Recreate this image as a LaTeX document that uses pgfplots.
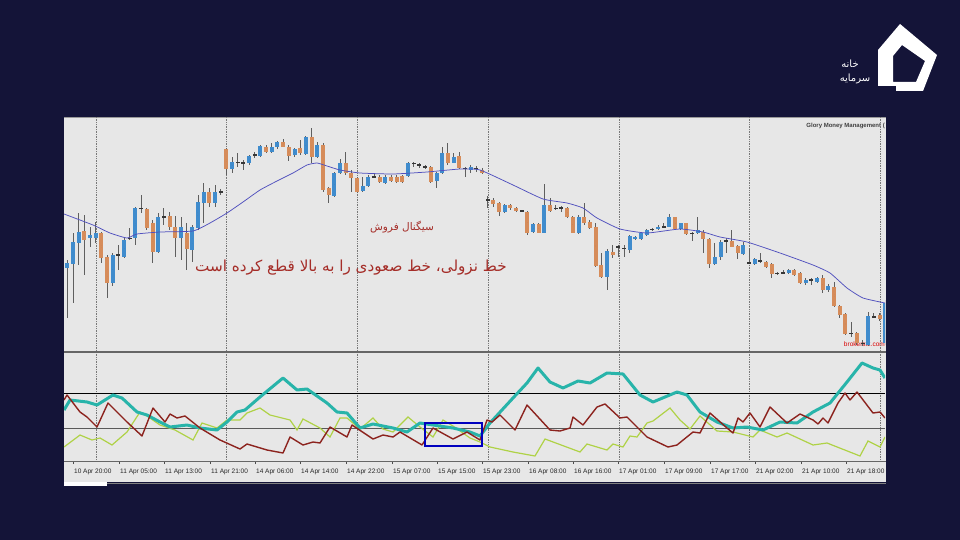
\documentclass[border=0pt]{standalone}
\usepackage{pgfplots}
\pgfplotsset{compat=1.18}
\usepackage{pgfplotstable}
\usepackage{fontspec}
\setmainfont{Liberation Sans}
\newfontfamily\arabicfont[Script=Arabic]{DejaVu Sans}
\TeXXeTstate=1
\definecolor{navy}{RGB}{20,20,56}
\definecolor{chartbg}{RGB}{231,231,231}
\definecolor{upc}{RGB}{64,140,205}
\definecolor{dnc}{RGB}{214,140,90}
\definecolor{wickc}{RGB}{95,95,95}
\definecolor{dojic}{RGB}{55,55,55}
\definecolor{mac}{RGB}{80,80,190}
\definecolor{tealc}{RGB}{40,180,170}
\definecolor{redc}{RGB}{140,35,30}
\definecolor{ygc}{RGB}{175,210,70}
\definecolor{txtred}{RGB}{165,45,40}
\definecolor{sepc}{RGB}{120,120,120}

\pgfplotstableread{
i top bot hi lo t
0 262.7 268.3 260 318.3 1
1 241.7 264 233.3 302.7 1
2 231.7 243.3 213.3 265 1
3 231 240 215 275 -1
4 235 238.3 226.7 246.7 1
5 232.7 238.3 221.7 243.3 1
6 233.3 258.3 231.7 263.3 -1
7 256.7 282.7 255 298.3 -1
8 255 283.3 253 286 1
9 255 255 245 270 0
10 240 256.7 238.3 258.3 1
11 238.3 238.3 228.3 240 0
12 208.3 238.3 206.7 245 1
13 208.3 208.3 195 213.3 0
14 209.3 228.3 208.3 230 -1
15 223.3 251.7 220 263.3 -1
16 216.7 251.7 213.3 253.3 1
17 216.7 216.7 208.3 225 0
18 216 226.7 211.7 230 -1
19 226.7 238.3 216 256.7 -1
20 226.7 238.3 216.7 260 1
21 232.7 249.3 223.3 270 -1
22 226.7 250 225 261.7 1
23 201.7 228.3 195 230 1
24 191.7 203.3 183.3 223.3 1
25 191.7 203.3 188.3 206.7 -1
26 191.7 203.3 185 206.7 1
27 191.7 191.7 189.3 195 0
28 149.3 169.3 148.3 175 -1
29 161.7 169.3 156.7 173.3 1
30 162.3 162.3 153.3 166.7 0
31 162.7 162.7 160 170 0
32 156 163.3 155 165 1
33 155 155 151.7 158.3 0
34 146 156 145 156.7 1
35 147.3 151.7 145 152.7 -1
36 146.7 151.7 143.3 153.3 1
37 141.7 147.3 140.7 149.3 1
38 141.7 146.7 139.3 147.3 -1
39 146.7 156 145 160.7 -1
40 149.3 155 148.3 156.7 1
41 148.3 153.3 140 155 -1
42 137.3 154 136 155 1
43 137.3 156.7 128.3 163.3 -1
44 145 156.7 141.7 158.3 1
45 145 190 143.3 191.7 -1
46 188.3 195 186.7 203.3 -1
47 173.3 196 171.7 197.3 1
48 162.7 173.3 159.3 174 1
49 162.7 172.7 151.7 175 -1
50 173.3 178.3 170 191.7 -1
51 178.3 191.7 176.7 192.7 -1
52 186 191 176.7 191.7 1
53 177.3 186 175 186.7 1
54 176.7 176.7 172.7 178.3 0
55 176.7 181.7 175 183.3 -1
56 177.3 183.3 175 184 1
57 176.7 180.7 175 182 -1
58 176.7 181.7 175 183 -1
59 176 181.7 174.5 183 -1
60 163.3 176 161.7 176.7 1
61 163.3 163.3 161.7 166.7 0
62 165 165 163.3 168.3 0
63 166.7 166.7 165 169.3 0
64 166.7 181.7 166 183.3 -1
65 173.3 180.7 171.7 188.3 1
66 153.3 173.3 146.7 174 1
67 153.3 163.3 143.3 165 -1
68 156.7 162.7 152.7 163.3 1
69 156 168.3 151.7 169.3 -1
70 168.3 168.3 166.7 176.7 0
71 167.3 170 165 173.3 1
72 168.3 168.3 166 171.7 0
73 170 173.3 168.3 174 -1
74 200 200 196 208.3 0
75 200 204 198.3 206.7 -1
76 203.3 211.7 201.7 216 -1
77 205 211.7 204 212.7 1
78 205 208.3 204 210 -1
79 207.7 210.7 206.7 211.7 -1
80 210.7 210.7 210 212 0
81 211.7 232.7 210.7 235 -1
82 224.3 231.7 223.3 232.7 1
83 224 232.7 223.3 233.3 -1
84 205 232.7 184 233.3 1
85 205 210.7 198.3 211.7 -1
86 208.3 208.3 205 210 0
87 207.7 207.7 206 211.7 0
88 208.3 216.7 206.7 218.3 -1
89 216.7 232.7 216 233.3 -1
90 216.7 232.7 215 234 1
91 216.7 223.3 202.7 225 -1
92 221.7 228.3 220 229.3 -1
93 226.7 266 223.3 266.7 -1
94 265 277.3 253.3 278.3 -1
95 250.7 277.3 249.3 290 1
96 251.7 255 245 258.3 -1
97 246.7 246.7 245 256.7 0
98 248.3 248.3 245 256.7 0
99 236 250 235 252.7 1
100 236.7 238.3 236 240 1
101 233.3 239.3 231.7 240 1
102 230 235 229.3 236 1
103 229.3 229.3 228.3 230.7 0
104 226.7 229.3 225 230 1
105 226.7 226.7 223.3 228.3 0
106 217.3 226.7 214 227.3 1
107 217.3 229.3 216.7 230 -1
108 223.3 228.7 222.7 230 1
109 223.3 234 222.7 235 -1
110 233.3 233.3 231.7 240.7 0
111 230 232.7 216.7 234 1
112 231.7 239.3 230 253.3 -1
113 239.3 264 238.3 268.3 -1
114 256.7 264 243.3 265 1
115 241.7 256.7 240 260 1
116 240.7 240.7 238.3 253.3 0
117 241 246.7 230 247.3 -1
118 246 253.3 245 259.3 -1
119 245 254 241.7 255 1
120 262.7 262.7 248.3 264 0
121 259.3 264 258.3 265 1
122 260.7 260.7 252.7 262.7 0
123 261.7 266.7 260.7 268.3 -1
124 264 274 262.7 278.3 -1
125 273.3 273.3 272 274.7 0
126 272.7 272.7 270 274 0
127 270 273.3 269.3 274 1
128 270 275 269.3 276 -1
129 272.7 283.3 271.7 284 -1
130 280 283.3 278.3 285 1
131 280 280 278.3 285 0
132 278.3 281.7 276.7 283.3 1
133 278.3 290 275 293.3 -1
134 286 290 284 291.7 1
135 287.3 306 281.7 307.3 -1
136 306 315 305 318.3 -1
137 314 334 312.7 335 -1
138 333.3 333.3 321.7 336.7 0
139 333.3 343.3 331.7 345 -1
140 343.3 343.3 340 346 0
141 316 345 311.7 346 1
142 316.7 316.7 313.3 318.3 0
143 315 319.3 313.3 320.7 -1
144 303 343 300 345 1
}\candles

\pgfplotsset{
  nomark/.style={only marks, mark=*, mark size=0pt, mark options={draw=none, fill=none}, forget plot},
  candlebody/.style 2 args={nomark,
    restrict expr to domain={\thisrow{t}}{#1},
    error bars/.cd, y dir=both, y explicit, error mark=none,
    error bar style={line width=4pt, color=#2, line cap=butt}},
}

\begin{document}
\begin{tikzpicture}
\begin{scope}[x=1pt,y=-1pt]
  \fill[navy] (0,0) rectangle (960,540);
  % screenshot frame
  \fill[chartbg] (64,117) rectangle (886,482);
  \draw[gray!80, line width=0.6pt] (64,117.3) -- (886,117.3);
  \fill[white] (64,482) rectangle (107,486);
  \draw[gray, line width=0.8pt] (107,483) -- (886,483);
  % watermark-like labels
  \node[anchor=east, inner sep=0, text=black!75, font=\fontsize{6}{7}\selectfont\bfseries] at (885,126) {Glory Money Management (};
  \node[anchor=east, inner sep=0, text=red!85!black, font=\fontsize{6.5}{7}\selectfont] at (885,344) {brokersfx.com};
\end{scope}

% ---------- upper panel: candles + moving average
\begin{axis}[at={(64pt,-117pt)}, anchor=north west, scale only axis,
  width=821pt, height=234pt, xmin=64, xmax=885, ymin=117, ymax=351,
  y dir=reverse, hide axis, clip=true]
  \pgfplotsinvokeforeach{96.7,226.7,357.7,488,619,749,880.5}{
    \addplot[sepc, densely dotted, line width=0.7pt, forget plot] coordinates {(#1,117) (#1,351)};
  }
  % wicks
  \addplot[nomark,
    error bars/.cd, y dir=both, y explicit, error mark=none,
    error bar style={line width=0.8pt, color=wickc}]
    table[x expr=67.3+5.68*\thisrow{i}, y expr=(\thisrow{hi}+\thisrow{lo})/2,
          y error expr=(\thisrow{lo}-\thisrow{hi})/2] {\candles};
  % bullish bodies
  \addplot[candlebody={0.5:1.5}{upc}]
    table[x expr=67.3+5.68*\thisrow{i}, y expr=(\thisrow{top}+\thisrow{bot})/2,
          y error expr=(\thisrow{bot}-\thisrow{top})/2] {\candles};
  % bearish bodies
  \addplot[candlebody={-1.5:-0.5}{dnc}]
    table[x expr=67.3+5.68*\thisrow{i}, y expr=(\thisrow{top}+\thisrow{bot})/2,
          y error expr=(\thisrow{bot}-\thisrow{top})/2] {\candles};
  % doji
  \addplot[candlebody={-0.5:0.5}{dojic}]
    table[x expr=67.3+5.68*\thisrow{i}, y expr=\thisrow{top},
          y error expr=0.6] {\candles};
  % moving average
  \addplot[mac, line width=0.75pt, smooth, tension=0.3] coordinates {
    (64,214) (93,225) (110,233) (127,238) (137,234) (160,232) (193,231) (210,223)
    (227,213) (243,202) (260,190) (277,181) (293,173) (307,165) (317,163) (327,166)
    (340,170) (360,173) (393,174) (427,172) (460,169) (480,170) (513,185) (543,199)
    (567,203) (583,208) (597,218) (620,229) (647,233) (680,229) (703,232) (720,237)
    (747,242) (780,253) (813,265) (830,273) (847,288) (863,298) (885,303)};
\end{axis}

% ---------- lower panel: ADX-type indicator
\begin{axis}[at={(64pt,-352pt)}, anchor=north west, scale only axis,
  width=821pt, height=109pt, xmin=64, xmax=885, ymin=352, ymax=461,
  y dir=reverse, axis line style={draw=none}, ytick=\empty,
  xtick pos=left, tick align=outside, major tick length=3pt,
  tick style={black!70, line width=0.5pt},
  xtick={73,119,164,210,255,300,346,392,437,482,528,573,618,664,710,755,801,846},
  xticklabels={10 Apr 20:00,11 Apr 05:00,11 Apr 13:00,11 Apr 21:00,14 Apr 06:00,14 Apr 14:00,14 Apr 22:00,15 Apr 07:00,15 Apr 15:00,15 Apr 23:00,16 Apr 08:00,16 Apr 16:00,17 Apr 01:00,17 Apr 09:00,17 Apr 17:00,21 Apr 02:00,21 Apr 10:00,21 Apr 18:00},
  xticklabel style={anchor=north west, inner sep=0pt, xshift=1pt, yshift=-5pt, text=black!85,
    font=\fontsize{6.5}{7}\selectfont},
  clip=true]
  \pgfplotsinvokeforeach{96.7,226.7,357.7,488,619,749,880.5}{
    \addplot[sepc, densely dotted, line width=0.7pt, forget plot] coordinates {(#1,352) (#1,461)};
  }
  \addplot[black, line width=0.7pt] coordinates {(64,393) (885,393)};
  \addplot[black!65, line width=0.8pt] coordinates {(64,428) (885,428)};
  \addplot[ygc, line width=1.2pt] coordinates {
    (64,447) (80,435) (92,440) (100,438) (112,445) (127,432) (140,412) (147,416)
    (160,425) (175,430) (193,440) (202,423) (217,428) (227,420) (240,420) (247,413)
    (260,408) (270,415) (290,420) (297,430) (303,419) (320,428) (330,437) (340,418)
    (347,418) (360,429) (373,418) (383,429) (393,432) (408,417) (420,427) (433,437)
    (443,420) (453,426) (470,438) (480,442) (490,447) (513,452) (535,456) (545,439)
    (580,452) (587,444) (607,450) (613,444) (623,447) (630,436) (637,437) (647,423)
    (653,421) (670,408) (680,420) (690,429) (700,416) (717,431) (733,432) (753,437)
    (760,430) (777,437) (787,433) (813,445) (827,443) (860,456) (868,441) (880,447)
    (885,437)};
  \addplot[tealc, line width=3pt, line join=round] coordinates {
    (64,410) (70,400) (87,402) (97,405) (113,395) (122,398) (137,412) (147,415)
    (160,422) (170,427) (187,425) (200,428) (217,430) (227,422) (237,412) (245,410)
    (260,397) (283,378) (297,390) (307,389) (327,403) (337,412) (347,413) (360,428)
    (373,424) (393,428) (407,432) (420,423) (433,425) (453,428) (470,432) (480,436)
    (490,423) (513,398) (527,383) (538,368) (550,382) (563,388) (578,381) (590,383)
    (607,373) (623,374) (640,395) (653,402) (677,392) (687,395) (700,412) (717,422)
    (733,428) (747,427) (763,430) (780,422) (797,423) (813,412) (830,403) (847,382)
    (862,363) (873,368) (880,370) (885,378)};
  \addplot[redc, line width=1.4pt, line join=round] coordinates {
    (64,400) (67,395) (80,412) (87,417) (97,427) (108,403) (127,422) (142,436)
    (153,408) (165,422) (170,414) (177,418) (185,416) (200,428) (220,440) (240,449)
    (247,444) (267,450) (283,453) (290,437) (303,445) (313,442) (320,443) (330,427)
    (347,437) (352,425) (373,439) (383,435) (393,437) (400,432) (422,445) (433,428)
    (453,439) (467,432) (480,440) (487,420) (492,422) (500,415) (515,430) (527,405)
    (550,430) (560,431) (570,428) (573,417) (583,425) (597,407) (605,404) (620,418)
    (627,417) (647,437) (668,447) (677,445) (693,432) (700,433) (710,413) (727,428)
    (733,433) (738,418) (743,422) (750,413) (760,427) (770,407) (787,423) (800,414)
    (813,420) (818,424) (823,418) (828,423) (838,403) (845,393) (850,400) (857,392)
    (873,413) (880,412) (885,418)};
\end{axis}

\begin{scope}[x=1pt,y=-1pt]
  % panel borders
  \draw[black!60, line width=2pt] (64,352) -- (886,352);
  \draw[black!60, line width=0.9pt] (64,461.5) -- (886,461.5);
  % highlight box
  \draw[blue!75!black, line width=1.3pt] (425,423) rectangle (482,446);
  % annotations
  \node[text=txtred, inner sep=0, font=\arabicfont\fontsize{10.5}{12}\selectfont] at (402,227) {\beginR سیگنال فروش\endR};
  \node[text=txtred, inner sep=0, font=\arabicfont\fontsize{15.2}{17}\selectfont] at (351,268) {\beginR خط نزولی، خط صعودی را به بالا قطع کرده است\endR};
  % logo
  \fill[white, even odd rule] (878,50) -- (900,24) -- (937,55) -- (923,91) -- (878,91) -- cycle
     (893,56) -- (902,45) -- (925,61) -- (916,82) -- (893,82) -- cycle;
  \fill[navy] (870,86) rectangle (896,95);
  \node[text=white, inner sep=0, font=\arabicfont\fontsize{10}{11}\selectfont] at (850,64) {\beginR خانه\endR};
  \node[text=white, inner sep=0, font=\arabicfont\fontsize{10}{11}\selectfont] at (855,79) {\beginR سرمایه\endR};
\end{scope}
\end{tikzpicture}
\end{document}
